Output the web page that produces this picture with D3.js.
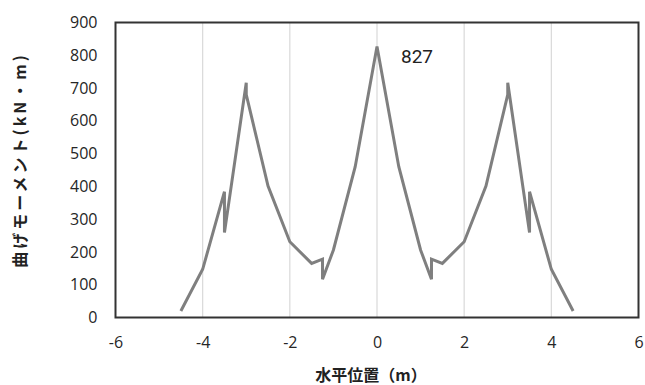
<!DOCTYPE html>
<html>
<head>
<meta charset="utf-8">
<script src="https://cdn.jsdelivr.net/npm/d3@7"></script>
<style>
  html, body { margin: 0; padding: 0; background: #fff; }
  svg { display: block; }
</style>
</head>
<body>
<svg id="chart" width="645" height="385"></svg>
<script>
// Data (horizontal position in m, bending moment in kN·m)
const xPositions = [-4.5, -4, -3.5, -3.5, -3, -3, -2.5, -2, -1.5, -1.25, -1.25, -1, -0.5, 0,
                    0.5, 1, 1.25, 1.25, 1.5, 2, 2.5, 3, 3, 3.5, 3.5, 4, 4.5];
const moments =    [20, 147, 384, 259, 716, 680, 401, 231, 165, 178, 117, 206, 460, 827,
                    460, 206, 117, 178, 165, 231, 401, 680, 716, 259, 384, 147, 20];
const xTicks = [-6, -4, -2, 0, 2, 4, 6];
const yTicks = [0, 100, 200, 300, 400, 500, 600, 700, 800, 900];
const peakLabel = "827";
const xTitle = "水平位置（m）";
const yTitle = "曲げモーメント(kN・m)";

const svg = d3.select("#chart");
const margin = {left: 115.5, top: 22.5, right: 6.5, bottom: 67.5};
const W = 645, H = 385;
const x = d3.scaleLinear().domain([-6, 6]).range([margin.left, W - margin.right]);
const y = d3.scaleLinear().domain([0, 900]).range([H - margin.bottom, margin.top]);

// vertical gridlines
svg.append("g").selectAll("line").data(xTicks.slice(1, -1)).join("line")
  .attr("x1", d => x(d)).attr("x2", d => x(d))
  .attr("y1", y(900)).attr("y2", y(0))
  .attr("stroke", "#d9d9d9").attr("stroke-width", 1.2);

// plot box
svg.append("rect")
  .attr("x", x(-6)).attr("y", y(900))
  .attr("width", x(6) - x(-6)).attr("height", y(0) - y(900))
  .attr("fill", "none").attr("stroke", "#333").attr("stroke-width", 2);

// axes labels via d3 axes
const xAxis = d3.axisBottom(x).tickValues(xTicks).tickSize(0).tickPadding(19)
  .tickFormat(d3.format("d"));
const gx = svg.append("g").attr("transform", `translate(0,${y(0)})`).call(xAxis);
gx.select(".domain").remove();
gx.selectAll("text").attr("font-family", "'Open Sans', 'Noto Sans', sans-serif")
  .attr("font-size", 16).attr("fill", "#262626").text(d => d < 0 ? "-" + Math.abs(d) : d);

const yAxis = d3.axisLeft(y).tickValues(yTicks).tickSize(0).tickPadding(18);
const gy = svg.append("g").attr("transform", `translate(${x(-6)},0)`).call(yAxis);
gy.select(".domain").remove();
gy.selectAll("text").attr("font-family", "'Open Sans', 'Noto Sans', sans-serif")
  .attr("font-size", 16).attr("fill", "#262626");

// line
const pts = xPositions.map((v, i) => [v, moments[i]]);
svg.append("path").datum(pts)
  .attr("d", d3.line().x(d => x(d[0])).y(d => y(d[1])))
  .attr("fill", "none").attr("stroke", "#7f7f7f").attr("stroke-width", 3)
  .attr("stroke-linejoin", "miter");

// peak label
svg.append("text").attr("x", x(0) + 24).attr("y", y(827) + 17)
  .attr("font-family", "Roboto, sans-serif").attr("font-size", 19).attr("fill", "#222")
  .text(peakLabel);

// axis titles
svg.append("text").attr("x", 371).attr("y", 374)
  .attr("text-anchor", "middle").attr("dominant-baseline", "central")
  .attr("font-family", "'Noto Sans CJK JP', sans-serif").attr("font-weight", "bold")
  .attr("font-size", 16).attr("fill", "#222").text(xTitle);

svg.append("text").attr("transform", "translate(26,160) rotate(-90)")
  .attr("text-anchor", "middle")
  .attr("font-family", "'Noto Sans CJK JP', sans-serif").attr("font-weight", "bold")
  .attr("font-size", 16).attr("letter-spacing", 3).attr("fill", "#222").text(yTitle);
</script>
</body>
</html>
